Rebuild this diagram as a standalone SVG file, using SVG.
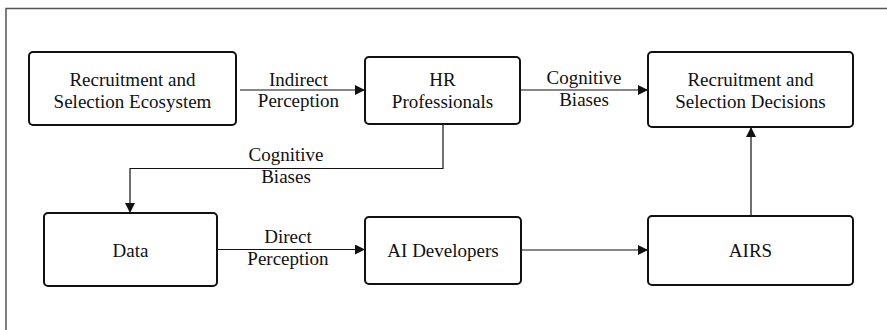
<svg xmlns="http://www.w3.org/2000/svg" width="887" height="330" viewBox="0 0 887 330">
<style>
.box{fill:#fff;stroke:#111;stroke-width:2}
.t{font-family:"Liberation Serif","Times New Roman",serif;font-size:19px;fill:#111;text-anchor:middle}
.c{fill:none;stroke:#111;stroke-width:1.2}
</style>
<defs>
<marker id="ah" viewBox="0 0 10 10" refX="10" refY="5" markerWidth="11" markerHeight="10" markerUnits="userSpaceOnUse" orient="auto">
<path d="M0,0 L10,5 L0,10 Z" fill="#111"/>
</marker>
</defs>
<rect width="887" height="330" fill="#fff"/>
<path d="M6,330 V8.5 H887" fill="none" stroke="#555" stroke-width="1.5"/>
<g id="connectors">
<path class="c" d="M240,90 H365" marker-end="url(#ah)"/>
<path class="c" d="M520,90 H648" marker-end="url(#ah)"/>
<path class="c" d="M443,124 V168.5 H130 V213" marker-end="url(#ah)"/>
<path class="c" d="M217,249.5 H365" marker-end="url(#ah)"/>
<path class="c" d="M521,250 H648" marker-end="url(#ah)"/>
<path class="c" d="M751,216 V127" marker-end="url(#ah)"/>
<text class="t" x="298.5" y="86">Indirect</text>
<text class="t" x="298.5" y="107">Perception</text>
<text class="t" x="584" y="84">Cognitive</text>
<text class="t" x="584" y="106">Biases</text>
<text class="t" x="286" y="161">Cognitive</text>
<text class="t" x="286" y="183">Biases</text>
<text class="t" x="288" y="243">Direct</text>
<text class="t" x="288" y="265">Perception</text>
</g>
<g id="ecosystem">
<rect class="box" x="29" y="52" width="207" height="73" rx="4"/>
<text class="t" x="132.5" y="86">Recruitment and</text>
<text class="t" x="132.5" y="108">Selection Ecosystem</text>
</g>
<g id="hr">
<rect class="box" x="365" y="57" width="155" height="67" rx="4"/>
<text class="t" x="442.5" y="86">HR</text>
<text class="t" x="442.5" y="108">Professionals</text>
</g>
<g id="decisions">
<rect class="box" x="648" y="52" width="205" height="75" rx="4"/>
<text class="t" x="750.5" y="86">Recruitment and</text>
<text class="t" x="750.5" y="108">Selection Decisions</text>
</g>
<g id="data">
<rect class="box" x="44" y="213" width="173" height="73" rx="4"/>
<text class="t" x="130.5" y="257">Data</text>
</g>
<g id="aidev">
<rect class="box" x="365" y="217" width="156" height="67" rx="4"/>
<text class="t" x="443" y="257">AI Developers</text>
</g>
<g id="airs">
<rect class="box" x="648" y="216" width="205" height="69" rx="4"/>
<text class="t" x="750.5" y="257">AIRS</text>
</g>
</svg>
